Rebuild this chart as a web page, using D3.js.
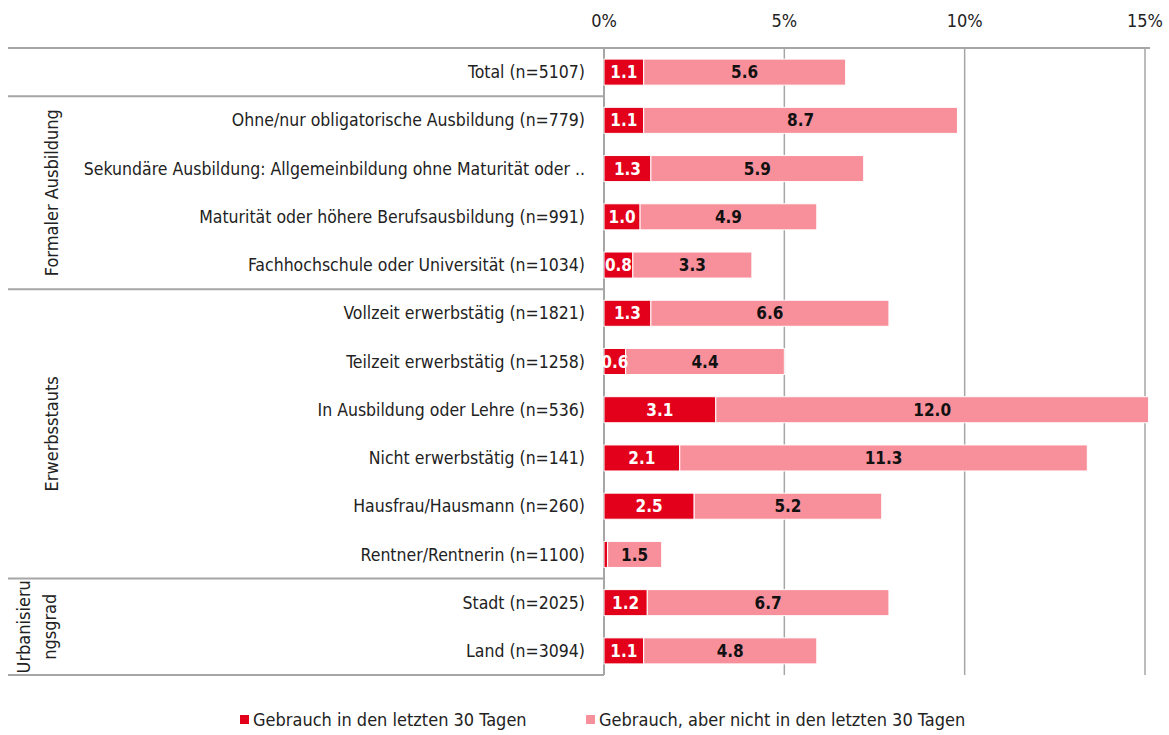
<!DOCTYPE html>
<html>
<head>
<meta charset="utf-8">
<script src="https://cdn.jsdelivr.net/npm/d3@7"></script>
<style>
    body { margin: 0; background: #fff; }
    svg { font-family: "Liberation Sans Narrow", "Arial Narrow", "DejaVu Sans Condensed", sans-serif; }
</style>
</head>
<body>
<svg width="1169" height="735"></svg>
<script>
let categories = [
    'Total (n=5107)',
    'Ohne/nur obligatorische Ausbildung (n=779)',
    'Sekundäre Ausbildung: Allgemeinbildung ohne Maturität oder ..',
    'Maturität oder höhere Berufsausbildung (n=991)',
    'Fachhochschule oder Universität (n=1034)',
    'Vollzeit erwerbstätig (n=1821)',
    'Teilzeit erwerbstätig (n=1258)',
    'In Ausbildung oder Lehre (n=536)',
    'Nicht erwerbstätig (n=141)',
    'Hausfrau/Hausmann (n=260)',
    'Rentner/Rentnerin (n=1100)',
    'Stadt (n=2025)',
    'Land (n=3094)'
];
let usedLast30 = [1.1, 1.1, 1.3, 1.0, 0.8, 1.3, 0.6, 3.1, 2.1, 2.5, 0.1, 1.2, 1.1];
let usedNotLast30 = [5.6, 8.7, 5.9, 4.9, 3.3, 6.6, 4.4, 12.0, 11.3, 5.2, 1.5, 6.7, 4.8];
let groupNames = [[], ['Formaler Ausbildung'], ['Erwerbsstauts'], ['Urbanisieru', 'ngsgrad']];
let groupSizes = [1, 4, 6, 2];
let ticks = [0, 5, 10, 15];
let seriesNames = ['Gebrauch in den letzten 30 Tagen', 'Gebrauch, aber nicht in den letzten 30 Tagen'];

let colors = ['#e2001a', '#f8909c'],
    lineColor = '#a6a6a6',
    leftX = 8, zeroX = 604, rightX = 1150,
    topY = 48, bottomY = 675;

let svg = d3.select('svg');

let xScale = d3.scaleLinear().domain([0, 15]).range([zeroX, 1145]);
let yScale = d3.scaleBand().domain(categories).range([topY, bottomY])
    .paddingInner(0.46).paddingOuter(0.23);
let step = yScale.step();

// gridlines
svg.append('g')
    .selectAll('line')
    .data(ticks.slice(1))
    .enter()
    .append('line')
    .attr('x1', d => xScale(d)).attr('x2', d => xScale(d))
    .attr('y1', topY).attr('y2', bottomY)
    .attr('stroke', lineColor)
    .attr('stroke-width', 1.5);

// top axis labels
svg.append('g')
    .selectAll('text')
    .data(ticks)
    .enter()
    .append('text')
    .attr('x', d => xScale(d))
    .attr('y', 27)
    .attr('text-anchor', 'middle')
    .style('font-size', '18px')
    .attr('fill', '#222')
    .text(d => d + '%');

// table lines
svg.append('line')
    .attr('x1', leftX).attr('x2', rightX)
    .attr('y1', topY).attr('y2', topY)
    .attr('stroke', lineColor).attr('stroke-width', 2);

let start = 0, groupBounds = [];
groupSizes.forEach((n, i) => {
    let y0 = yScale(categories[start]) - yScale.paddingOuter() * step,
        y1 = y0 + n * step;
    groupBounds.push([y0, y1]);
    start += n;
});

svg.append('g')
    .selectAll('line')
    .data(groupBounds)
    .enter()
    .append('line')
    .attr('x1', leftX).attr('x2', zeroX)
    .attr('y1', d => d[1]).attr('y2', d => d[1])
    .attr('stroke', lineColor).attr('stroke-width', 2);

svg.append('line')
    .attr('x1', zeroX).attr('x2', zeroX)
    .attr('y1', topY).attr('y2', bottomY)
    .attr('stroke', lineColor).attr('stroke-width', 2);

// group labels (rotated)
groupNames.forEach((lines, i) => {
    let cy = (groupBounds[i][0] + groupBounds[i][1]) / 2;
    let xs = lines.length > 1 ? [24, 50] : [52];
    lines.forEach((txt, j) => {
        svg.append('text')
            .attr('transform', `translate(${xs[j]},${cy}) rotate(-90)`)
            .attr('text-anchor', 'middle')
            .attr('dy', '0.35em')
            .style('font-size', '18px')
            .attr('fill', '#222')
            .text(txt);
    });
});

// category labels
svg.append('g')
    .selectAll('text')
    .data(categories)
    .enter()
    .append('text')
    .attr('x', 585)
    .attr('y', d => yScale(d) + yScale.bandwidth() / 2)
    .attr('dy', '0.35em')
    .attr('text-anchor', 'end')
    .style('font-size', '17.5px')
    .attr('fill', '#222')
    .text(d => d);

// stacked bars
let rows = categories.map((c, i) => ({cat: c, a: usedLast30[i], b: usedNotLast30[i]}));

let bars = svg.append('g');

bars.selectAll('.bar-a')
    .data(rows)
    .enter()
    .append('rect')
    .attr('class', 'bar-a')
    .attr('x', xScale(0))
    .attr('y', d => yScale(d.cat))
    .attr('width', d => xScale(d.a) - xScale(0))
    .attr('height', yScale.bandwidth())
    .attr('fill', colors[0])
    .attr('stroke', '#fff')
    .attr('stroke-width', 1);

bars.selectAll('.bar-b')
    .data(rows)
    .enter()
    .append('rect')
    .attr('class', 'bar-b')
    .attr('x', d => xScale(d.a))
    .attr('y', d => yScale(d.cat))
    .attr('width', d => xScale(d.a + d.b) - xScale(d.a))
    .attr('height', yScale.bandwidth())
    .attr('fill', colors[1])
    .attr('stroke', '#fff')
    .attr('stroke-width', 1);

// value labels
bars.selectAll('.lbl-a')
    .data(rows.filter(d => d.a >= 0.5))
    .enter()
    .append('text')
    .attr('x', d => (xScale(0) + xScale(d.a)) / 2)
    .attr('y', d => yScale(d.cat) + yScale.bandwidth() / 2)
    .attr('dy', '0.36em')
    .attr('text-anchor', 'middle')
    .style('font-size', '17px')
    .style('font-weight', 'bold')
    .attr('fill', '#fff')
    .text(d => d.a.toFixed(1));

bars.selectAll('.lbl-b')
    .data(rows)
    .enter()
    .append('text')
    .attr('x', d => (xScale(d.a) + xScale(d.a + d.b)) / 2)
    .attr('y', d => yScale(d.cat) + yScale.bandwidth() / 2)
    .attr('dy', '0.36em')
    .attr('text-anchor', 'middle')
    .style('font-size', '17px')
    .style('font-weight', 'bold')
    .attr('fill', '#111')
    .text(d => d.b.toFixed(1));

// legend
let legend = svg.append('g')
    .selectAll('g')
    .data(seriesNames)
    .enter()
    .append('g')
    .attr('transform', (d, i) => `translate(${[240, 586][i]}, 720)`);

legend.append('rect')
    .attr('x', 0).attr('y', -5)
    .attr('width', 9).attr('height', 9)
    .attr('fill', (d, i) => colors[i]);

legend.append('text')
    .attr('x', 13)
    .attr('dy', '0.35em')
    .style('font-size', '18px')
    .attr('fill', '#222')
    .text(d => d);
</script>
</body>
</html>
